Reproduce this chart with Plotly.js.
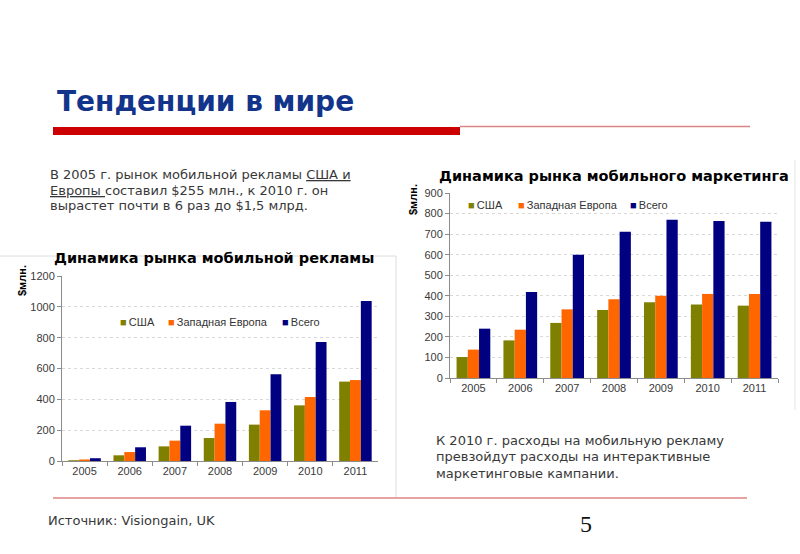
<!DOCTYPE html>
<html>
<head>
<meta charset="utf-8">
<script src="https://cdn.plot.ly/plotly-3.0.1.min.js"></script>
<style>html,body{margin:0;padding:0;background:#fff;}#chart{width:800px;height:554px;}</style>
</head>
<body>
<div id="chart"></div>
<script>
// ---- data ----
const years = ['2005', '2006', '2007', '2008', '2009', '2010', '2011'];
const seriesNames = ['США', 'Западная Европа', 'Всего'];
const seriesColors = ['#808000', '#ff6600', '#000080'];

// Left chart: Динамика рынка мобильной рекламы ($ млн.)
const usaAd = [5, 37, 95, 149, 236, 361, 515];
const europeAd = [10, 58, 132, 242, 329, 415, 525];
const totalAd = [18, 89, 229, 383, 562, 772, 1038];

// Right chart: Динамика рынка мобильного маркетинга ($ млн.)
const usaMk = [102, 183, 268, 331, 368, 357, 352];
const europeMk = [138, 235, 334, 383, 400, 409, 409];
const totalMk = [240, 418, 600, 712, 770, 764, 760];

const slideTitle = 'Тенденции в мире';
const leftChartTitle = 'Динамика рынка мобильной рекламы';
const rightChartTitle = 'Динамика рынка мобильного маркетинга';
const unitLabel = '$млн.';
const introLines = ['В 2005 г. рынок мобильной рекламы <u>США и</u>',
  '<u>Европы </u>составил $255 млн., к 2010 г. он',
  'вырастет почти в 6 раз до $1,5 млрд.'];
const noteLines = ['К 2010 г. расходы на мобильную рекламу',
  'превзойдут расходы на интерактивные',
  'маркетинговые кампании.'];
const sourceText = 'Источник: Visiongain, UK';
const pageNumber = '5';

// ---- helpers (page pixel -> paper fraction) ----
const W = 800, H = 554;
const px = x => x / W;
const py = y => 1 - y / H;

const leftSeries = [usaAd, europeAd, totalAd];
const rightSeries = [usaMk, europeMk, totalMk];

const traces = [];
leftSeries.forEach((vals, i) => traces.push({
  type: 'bar', x: years, y: vals, name: seriesNames[i],
  marker: {color: seriesColors[i]}, xaxis: 'x', yaxis: 'y', showlegend: false, hoverinfo: 'skip'
}));
rightSeries.forEach((vals, i) => traces.push({
  type: 'bar', x: years, y: vals, name: seriesNames[i],
  marker: {color: seriesColors[i]}, xaxis: 'x2', yaxis: 'y2', showlegend: false, hoverinfo: 'skip'
}));

const tickFont = {family: 'Liberation Sans, Arial, sans-serif', size: 11, color: '#3a3a3a'};
const axisBase = {
  showline: true, linecolor: '#8c8c8c', linewidth: 1,
  ticks: 'outside', ticklen: 4, tickcolor: '#8c8c8c',
  tickfont: tickFont, fixedrange: true
};
const xBase = Object.assign({}, axisBase, {type: 'category', tickson: 'boundaries', showgrid: false});
const yBase = Object.assign({}, axisBase, {
  showgrid: true, gridcolor: '#d8d8d8', griddash: 'dot', gridwidth: 1, zeroline: false
});

const annotations = [];
function addText(text, x, y, opts) {
  annotations.push(Object.assign({
    text: text, xref: 'paper', yref: 'paper', x: px(x), y: py(y),
    xanchor: 'left', yanchor: 'middle', showarrow: false,
    font: {family: 'DejaVu Sans, Verdana, sans-serif', size: 13, color: '#383838'}
  }, opts || {}));
}

// slide title
addText(slideTitle, 55, 102, {font: {family: 'DejaVu Sans, Verdana, sans-serif', size: 28, color: '#12348a', weight: 'bold'}});
// intro paragraph
introLines.forEach((t, i) => addText(t, 48, 174 + i * 16, {}));
// note paragraph
noteLines.forEach((t, i) => addText(t, 434, 440 + i * 16.5, {}));
// source and page number
addText(sourceText, 46, 520, {});
addText(pageNumber, 586, 524, {xanchor: 'center', font: {family: 'Liberation Serif, Times New Roman, serif', size: 24, color: '#111111'}});

// chart titles
const chartTitleFont = {family: 'DejaVu Sans, Verdana, sans-serif', size: 14.5, color: '#000000', weight: 'bold'};
addText(leftChartTitle, 214, 258, {xanchor: 'center', font: chartTitleFont});
addText(rightChartTitle, 614, 176, {xanchor: 'center', font: chartTitleFont});

// unit labels
const unitFont = {family: 'Liberation Sans, Arial, sans-serif', size: 11, color: '#000000', weight: 'bold'};
addText(unitLabel, 22, 281, {xanchor: 'center', textangle: -90, font: unitFont});
addText(unitLabel, 413, 200, {xanchor: 'center', textangle: -90, font: unitFont});

// legends (built from series names / colours)
const legendFont = {family: 'Liberation Sans, Arial, sans-serif', size: 11, color: '#333333'};
const leftLegendX = [118, 166, 280];
const rightLegendX = [466, 516, 628];
seriesNames.forEach((n, i) => {
  const t = '<span style="color:' + seriesColors[i] + '">■</span>\u2009' + n;
  addText(t, leftLegendX[i], 322, {font: legendFont});
  addText(t, rightLegendX[i], 205, {font: legendFont});
});

const shapes = [
  // red title bar
  {type: 'rect', xref: 'paper', yref: 'paper', x0: px(53), x1: px(460), y0: py(135), y1: py(127),
   fillcolor: '#cc0000', line: {width: 0}},
  {type: 'line', xref: 'paper', yref: 'paper', x0: px(460), x1: px(750), y0: py(126.5), y1: py(126.5),
   line: {color: '#d98585', width: 1.5}},
  // left chart frame
  {type: 'line', xref: 'paper', yref: 'paper', x0: px(0), x1: px(396), y0: py(256), y1: py(256),
   line: {color: '#dcdcdc', width: 1}, layer: 'below'},
  {type: 'line', xref: 'paper', yref: 'paper', x0: px(396), x1: px(396), y0: py(256), y1: py(497),
   line: {color: '#dcdcdc', width: 1}, layer: 'below'},
  // right chart frame
  {type: 'line', xref: 'paper', yref: 'paper', x0: px(795), x1: px(795), y0: py(160), y1: py(410),
   line: {color: '#e4e4e4', width: 1}, layer: 'below'},
  // bottom pink line
  {type: 'line', xref: 'paper', yref: 'paper', x0: px(53), x1: px(747), y0: py(498), y1: py(498),
   line: {color: '#e8a2a2', width: 2}}
];

const layout = {
  width: W, height: H,
  margin: {l: 0, r: 0, t: 0, b: 0},
  paper_bgcolor: '#ffffff', plot_bgcolor: 'rgba(0,0,0,0)',
  barmode: 'group', bargap: 0.28, bargroupgap: 0,
  showlegend: false,
  xaxis: Object.assign({}, xBase, {domain: [px(62), px(378)], anchor: 'y'}),
  yaxis: Object.assign({}, yBase, {domain: [py(461), py(276)], anchor: 'x', range: [0, 1200], dtick: 200}),
  xaxis2: Object.assign({}, xBase, {domain: [px(450), px(778)], anchor: 'y2'}),
  yaxis2: Object.assign({}, yBase, {domain: [py(378), py(193)], anchor: 'x2', range: [0, 900], dtick: 100}),
  annotations: annotations,
  shapes: shapes
};

Plotly.newPlot('chart', traces, layout, {displayModeBar: false, staticPlot: true});
</script>
</body>
</html>
